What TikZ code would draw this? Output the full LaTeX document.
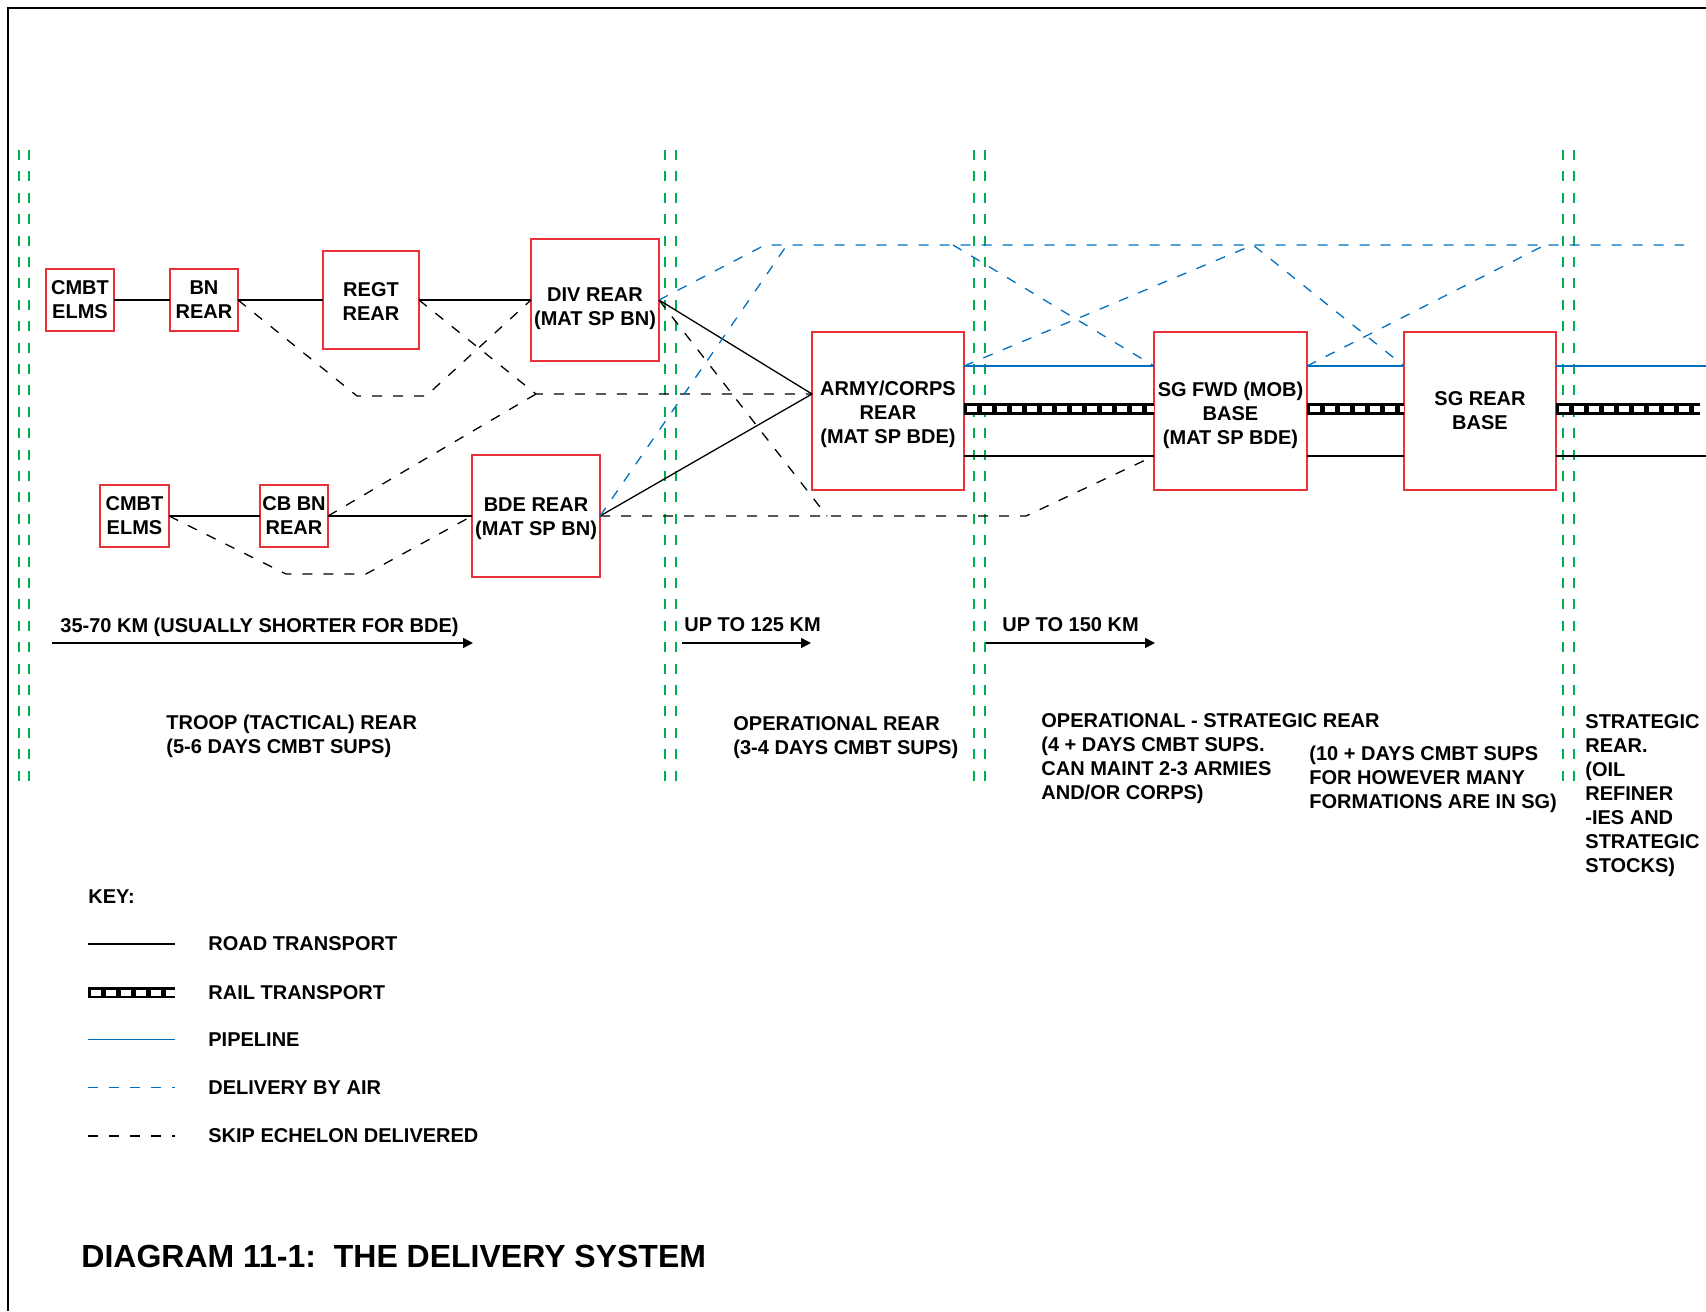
\documentclass[tikz,border=0pt]{standalone}
\usepackage{fontspec}
\setmainfont{Liberation Sans}
\usepackage{xcolor}
\usetikzlibrary{positioning, arrows.meta}

\definecolor{boxred}{RGB}{234,48,56}
\definecolor{pipeblue}{RGB}{0,112,192}
\definecolor{guidegreen}{RGB}{0,176,80}

% strut that pushes a box text a little lower
\newcommand{\toppad}[1]{\rule{0pt}{#1}}

\tikzset{
  txt/.style={font=\fontsize{10}{12}\selectfont\bfseries, inner sep=0pt},
  unitbox/.style={txt, draw=boxred, line width=0.8pt, fill=white, align=center, inner sep=1pt, outer sep=0pt},
  smallunit/.style={unitbox, minimum width=34pt, minimum height=31pt},
  regtunit/.style={unitbox, minimum width=48pt, minimum height=49pt},
  rearunit/.style={unitbox, minimum width=64pt, minimum height=61pt},
  baseunit/.style={unitbox, minimum width=76.5pt, minimum height=79pt},
  roadline/.style={line width=0.65pt},
  skipline/.style={line width=0.65pt, dash pattern=on 5pt off 5.5pt},
  pipeline/.style={pipeblue, line width=0.8pt},
  airline/.style={pipeblue, line width=0.65pt, dash pattern=on 5pt off 5.5pt},
  railline/.style={line width=5.8pt, postaction={draw=white, line width=3pt, dash=on 5pt off 2.5pt phase 6.2pt}},
  guideline/.style={guidegreen, line width=0.6pt, dash pattern=on 5pt off 5.7pt},
  distarrow/.style={line width=0.8pt, -{Triangle[length=5pt, width=5pt]}},
  note/.style={txt, align=left, anchor=north west},
}

\begin{document}
\begin{tikzpicture}[x=0.5pt, y=-0.5pt]
    \useasboundingbox (0,0) rectangle (1706,1311);
    \draw[line width=1.1pt] (8,1311) -- (8,8) -- (1706,8);

    % echelon boundaries
    \foreach \gx in {19,29,665,676,974,985,1563,1574}
        \draw[guideline] (\gx,150) -- (\gx,781);

    \node[smallunit] (cmbtA) at (80,300) {CMBT\\ELMS};
    \node[smallunit] (bn) [right=28pt of cmbtA] {BN\\REAR};
    \node[regtunit] (regt) [right=42.5pt of bn] {\toppad{8.2pt}REGT\\REAR};
    \node[rearunit] (div) [right=56pt of regt] {\toppad{15.2pt}DIV REAR\\(MAT SP BN)};
    \node[smallunit, minimum width=34.5pt] (cmbtB) at (134.5,516) {CMBT\\ELMS};
    \node[smallunit] (cbbn) [right=45.5pt of cmbtB] {CB BN\\REAR};
    \node[rearunit] (bde) [right=72pt of cbbn] {\toppad{9.6pt}BDE REAR\\(MAT SP BN)};
    \node[baseunit, minimum width=76pt] (army) at (888,411) {\toppad{10.7pt}ARMY/CORPS\\REAR\\(MAT SP BDE)};
    \node[baseunit] (sgfwd) [right=95pt of army] {\toppad{12pt}SG FWD (MOB)\\BASE\\(MAT SP BDE)};
    \node[baseunit, minimum width=76pt] (sgrear) [right=48.5pt of sgfwd] {SG REAR\\BASE};

    \coordinate (armyin) at (army.west |- 0,394);
    \coordinate (skiphub) at (536,394);
    \coordinate (skipA) at (357,396);
    \coordinate (skipB) at (426,396);
    \coordinate (skipC) at (286,574);
    \coordinate (skipD) at (366,574);
    \coordinate (skipE) at (1026,516);
    \coordinate (skipF) at (827,516);
    \coordinate (airA) at (765,245);
    \coordinate (airB) at (787,245);
    \coordinate (airC) at (953,245);
    \coordinate (airD) at (1253,245);
    \coordinate (airE) at (1545,245);
    \coordinate (airEnd) at (1684,245);

    \path[roadline]
        (cmbtA) edge (bn)
        (bn) edge (regt)
        (regt) edge (div)
        (cmbtB) edge (cbbn)
        (cbbn) edge (bde)
        (div.east) edge (armyin)
        (bde.east) edge (armyin);

    \foreach \ry/\rs in {366/pipeline, 409/railline, 456/roadline} {
        \draw[\rs] (army.east |- 0,\ry) -- (sgfwd.west |- 0,\ry);
        \draw[\rs] (sgfwd.east |- 0,\ry) -- (sgrear.west |- 0,\ry);
    }
    \draw[pipeline] (sgrear.east |- 0,366) -- (1706,366);
    \draw[railline] (sgrear.east |- 0,409) -- (1700,409);
    \draw[roadline] (sgrear.east |- 0,456) -- (1706,456);

    \draw[skipline] (bn.east) -- (skipA) -- (skipB) -- (div.west);
    \draw[skipline] (regt.east) -- (skiphub) -- (armyin);
    \draw[skipline] (cbbn.east) -- (skiphub);
    \draw[skipline] (cmbtB.east) -- (skipC) -- (skipD) -- (bde.west);
    \draw[skipline] (bde.east) -- (skipE) -- (sgfwd.west |- 0,456);
    \draw[skipline] (div.east) -- (skipF);

    \draw[airline] (div.east) -- (airA) -- (airEnd);
    \draw[airline] (bde.east) -- (airB);
    \draw[airline] (airC) -- (sgfwd.west |- 0,366);
    \draw[airline] (army.east |- 0,366) -- (airD) -- (sgrear.west |- 0,366);
    \draw[airline] (sgfwd.east |- 0,366) -- (airE);

    \draw[distarrow] (52,643) -- (473,643);
    \draw[distarrow] (682,643) -- (811,643);
    \draw[distarrow] (986,643) -- (1155,643);
    \node[txt, anchor=west] (kmA) at (60,627) {35-70 KM (USUALLY SHORTER FOR BDE)};
    \node[txt, anchor=west] (kmB) at (684,624.5) {UP TO 125 KM};
    \node[txt, anchor=west] (kmC) at (1002,624.5) {UP TO 150 KM};

    \node[note] (troop) at (166,715) {TROOP (TACTICAL) REAR\\(5-6 DAYS CMBT SUPS)};
    \node[note] (oprear) at (733,716) {OPERATIONAL REAR\\(3-4 DAYS CMBT SUPS)};
    \node[note] (opstrat) at (1041,713) {OPERATIONAL - STRATEGIC REAR\\(4 + DAYS CMBT SUPS.\\CAN MAINT 2-3 ARMIES\\AND/OR CORPS)};
    \node[note] (tenplus) at (1309,746) {(10 + DAYS CMBT SUPS\\FOR HOWEVER MANY\\FORMATIONS ARE IN SG)};
    \node[note] (strat) at (1585,714) {STRATEGIC\\REAR.\\(OIL\\REFINER\\-IES AND\\STRATEGIC\\STOCKS)};

    % key
    \node[txt, anchor=west] (key) at (88,897) {KEY:};
    \foreach \ky/\ks/\kt [count=\ki] in {944/roadline/ROAD TRANSPORT, 992.5/railline/RAIL TRANSPORT, 1039.5/pipeline/PIPELINE, 1087.5/airline/DELIVERY BY AIR, 1136/skipline/SKIP ECHELON DELIVERED} {
        \draw[\ks] (88,\ky) -- (175,\ky);
        \node[txt, anchor=west] (key\ki) at (208,\ky) {\kt};
    }

    \node[txt, font=\fontsize{16}{19}\selectfont\bfseries, anchor=west] (title) at (81,1256) {DIAGRAM 11-1:\ \ THE DELIVERY SYSTEM};
\end{tikzpicture}
\end{document}
